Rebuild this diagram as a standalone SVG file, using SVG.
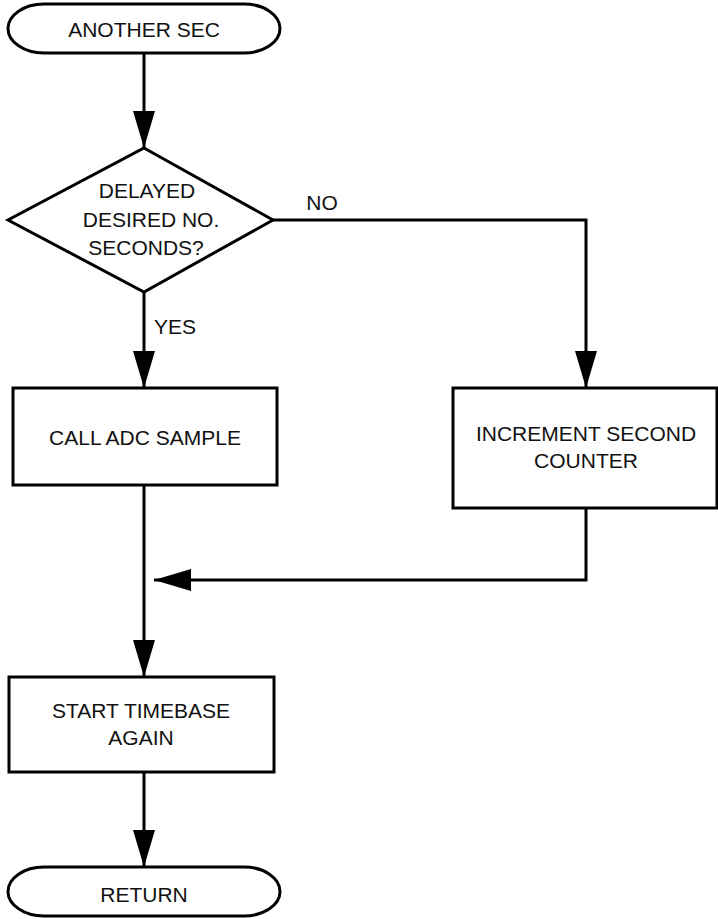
<svg xmlns="http://www.w3.org/2000/svg" width="718" height="919" viewBox="0 0 718 919">
<style>
.s{fill:#fff;stroke:#000;stroke-width:3}
.t{font-family:"Liberation Sans",Arial,sans-serif;font-size:21px;fill:#111;text-anchor:middle}
.c{fill:none;stroke:#000;stroke-width:3}
</style>
<defs>
<marker id="ah" viewBox="0 0 37 22" refX="37" refY="11" markerWidth="37" markerHeight="22" markerUnits="userSpaceOnUse" orient="auto">
<path d="M0,0 L37,11 L0,22 z" fill="#000"/>
</marker>
</defs>
<g id="connectors">
<path class="c" d="M144,53 V148" marker-end="url(#ah)"/>
<path class="c" d="M144,292 V388" marker-end="url(#ah)"/>
<path class="c" d="M273,220 H586 V388" marker-end="url(#ah)"/>
<path class="c" d="M586,508 V580 H154" marker-end="url(#ah)"/>
<path class="c" d="M144,485 V677" marker-end="url(#ah)"/>
<path class="c" d="M144,772 V867" marker-end="url(#ah)"/>
<text class="t" x="322" y="210">NO</text>
<text class="t" x="175" y="334">YES</text>
</g>
<g id="start">
<rect class="s" x="8" y="4" width="272" height="49" rx="36" ry="24.5"/>
<text class="t" x="144" y="37">ANOTHER SEC</text>
</g>
<g id="decision">
<polygon class="s" points="144,148 273,220 144,292 8,220"/>
<text class="t" x="147" y="198">DELAYED</text>
<text class="t" x="151" y="227">DESIRED NO.</text>
<text class="t" x="146" y="255">SECONDS?</text>
</g>
<g id="adc">
<rect class="s" x="13" y="388" width="264" height="97"/>
<text class="t" x="145" y="445">CALL ADC SAMPLE</text>
</g>
<g id="increment">
<rect class="s" x="453" y="388" width="264" height="120"/>
<text class="t" x="586" y="441">INCREMENT SECOND</text>
<text class="t" x="586" y="468">COUNTER</text>
</g>
<g id="timebase">
<rect class="s" x="9" y="677" width="265" height="95"/>
<text class="t" x="141" y="718">START TIMEBASE</text>
<text class="t" x="141" y="745">AGAIN</text>
</g>
<g id="return">
<rect class="s" x="8" y="867" width="272" height="49" rx="36" ry="24.5"/>
<text class="t" x="144" y="902">RETURN</text>
</g>
</svg>
